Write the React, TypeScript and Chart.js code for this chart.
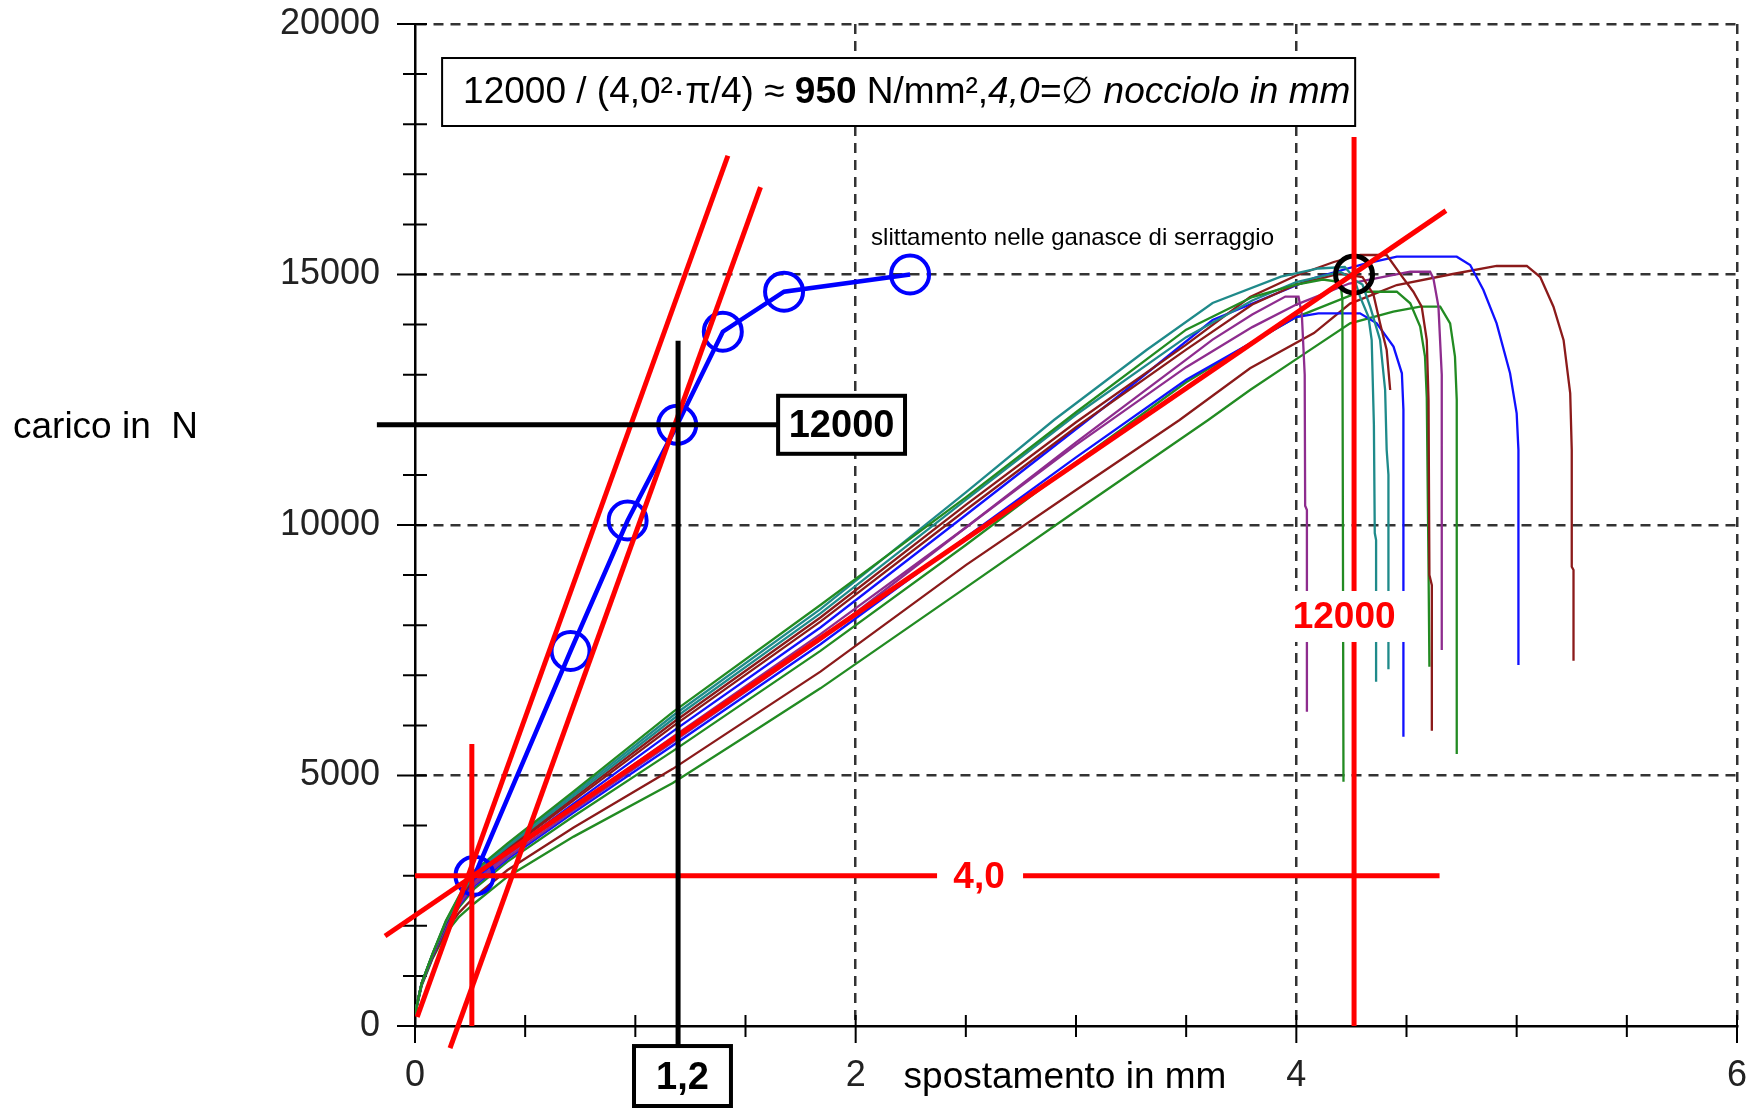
import React, { useEffect, useRef } from "react";
import { Chart, registerables } from "chart.js";

Chart.register(...registerables);

type P = [number, number];

// ---------- axes ----------
const xTickLabels = [0, 2, 4, 6];
const yTickLabels = [0, 5000, 10000, 15000, 20000];
const xTitle = "spostamento in mm";
const yTitle = "carico in  N";

// ---------- test curves (spostamento mm, carico N) ----------
const greenA: P[] = [[0,250],[0.03,850],[0.08,1450],[0.14,2100],[0.2,2600],[0.27,3100],[0.42,3646],[0.72,4683],[1.17,6264],[1.84,8403],[2.5,10550],[3.0,12250],[3.5,13900],[3.8,14550],[4.0,14800],[4.12,14900],[4.2,14850],[4.209,14500],[4.214,4877]];
const tealA: P[] = [[0,250],[0.03,850],[0.08,1445],[0.14,2088],[0.2,2579],[0.27,3068],[0.42,3613],[0.72,4638],[1.17,6193],[1.84,8320],[2.5,10650],[2.9,12096],[3.32,13493],[3.62,14431],[3.93,14956],[4.1,15120],[4.22,15150],[4.26,14950],[4.289,14558],[4.327,14159],[4.342,13693],[4.352,12000],[4.356,9840],[4.362,9700],[4.362,6873]];
const tealB: P[] = [[0,240],[0.03,850],[0.08,1440],[0.14,2075],[0.2,2558],[0.27,3035],[0.42,3579],[0.72,4593],[1.17,6123],[1.84,8237],[2.5,10500],[3.0,12200],[3.5,13750],[3.8,14480],[4.0,14850],[4.2,15050],[4.3,14800],[4.335,14358],[4.38,13693],[4.403,12695],[4.41,11500],[4.418,11000],[4.418,7120]];
const darkRedB: P[] = [[0,250],[0.03,850],[0.08,1435],[0.14,2063],[0.2,2537],[0.27,3003],[0.42,3546],[0.72,4548],[1.17,6052],[1.84,8154],[2.5,10400],[3.0,12050],[3.5,13600],[3.79,14550],[4.0,14980],[4.17,15250],[4.29,15389],[4.41,15389],[4.486,14922],[4.531,14656],[4.569,14358],[4.592,13693],[4.6,12500],[4.604,9000],[4.615,8800],[4.615,5895]];
const darkRedC: P[] = [[0,240],[0.03,850],[0.08,1430],[0.14,2050],[0.2,2516],[0.27,2970],[0.42,3513],[0.72,4502],[1.17,5981],[1.84,8070],[2.5,10300],[3.0,11950],[3.5,13500],[3.8,14400],[4.0,14800],[4.2,15020],[4.3,14950],[4.35,14600],[4.38,14025],[4.41,13493],[4.426,12695]];
const blueB: P[] = [[0,250],[0.03,850],[0.08,1423],[0.14,2033],[0.2,2487],[0.27,2925],[0.42,3466],[0.72,4439],[1.17,5882],[1.84,7954],[2.5,10200],[3.17,12495],[3.62,14092],[4.08,14930],[4.3,15200],[4.456,15356],[4.728,15356],[4.789,15190],[4.849,14690],[4.909,14025],[4.97,13028],[5.0,12230],[5.008,11500],[5.008,7206]];
const purpleB: P[] = [[0,240],[0.03,840],[0.08,1415],[0.14,2013],[0.2,2453],[0.27,2873],[0.42,3413],[0.72,4367],[1.17,5769],[1.84,7821],[2.5,9950],[3.0,11600],[3.5,13150],[3.8,13950],[4.0,14400],[4.24,14820],[4.517,15055],[4.607,15055],[4.622,14922],[4.645,14358],[4.66,13000],[4.66,7505]];
const purpleA: P[] = [[0,250],[0.03,840],[0.08,1408],[0.14,1995],[0.2,2424],[0.27,2827],[0.42,3366],[0.72,4304],[1.17,5670],[1.84,7705],[2.5,9950],[3.0,11650],[3.5,13300],[3.62,13700],[3.8,14200],[3.95,14560],[4.01,14560],[4.025,14200],[4.038,13000],[4.04,10385],[4.048,10300],[4.048,6274]];
const blueA: P[] = [[0,240],[0.03,840],[0.08,1403],[0.14,1983],[0.2,2403],[0.27,2795],[0.42,3333],[0.72,4259],[1.17,5599],[1.84,7621],[2.5,9750],[3.0,11350],[3.5,12900],[3.8,13650],[4.0,14150],[4.1,14225],[4.289,14225],[4.365,14025],[4.441,13560],[4.479,13028],[4.486,12300],[4.486,5775]];
const greenB: P[] = [[0,230],[0.03,830],[0.08,1395],[0.14,1963],[0.2,2369],[0.27,2743],[0.42,3280],[0.72,4186],[1.17,5486],[1.84,7488],[2.5,9600],[3.0,11250],[3.5,12850],[3.8,13650],[4.0,14150],[4.289,14656],[4.456,14656],[4.517,14425],[4.562,13960],[4.584,13360],[4.592,12535],[4.6,9140],[4.604,7172]];
const darkRedA: P[] = [[0,240],[0.03,820],[0.08,1370],[0.14,1900],[0.2,2264],[0.27,2580],[0.42,3113],[0.72,3961],[1.17,5133],[1.84,7073],[2.5,9200],[3.0,10700],[3.47,12096],[3.79,13128],[4.08,13830],[4.244,14420],[4.456,14790],[4.698,15000],[4.909,15170],[5.046,15170],[5.107,14950],[5.167,14358],[5.213,13690],[5.243,12630],[5.25,11500],[5.25,9168],[5.258,9100],[5.258,7292]];
const greenC: P[] = [[0,220],[0.03,800],[0.08,1350],[0.14,1850],[0.2,2180],[0.27,2450],[0.42,2980],[0.72,3780],[1.17,4850],[1.5,5780],[1.84,6740],[2.5,8750],[3.0,10280],[3.6,12096],[3.79,12695],[4.017,13360],[4.244,14025],[4.44,14258],[4.562,14358],[4.653,14358],[4.698,14025],[4.72,13360],[4.728,12500],[4.728,5429]];

// ---------- construction overlay ----------
const blueSeries: P[] = [[0.27,3000],[0.706,7485],[0.965,10090],[1.19,12000],[1.397,13858],[1.675,14657],[2.247,15000]];
const blackCircle: P[] = [[4.262,15000]];
const redSteepA: P[] = [[0.01,180],[1.42,17370]];
const redSteepB: P[] = [[0.159,-440],[1.568,16745]];
const redFit: P[] = [[-0.136,1796],[4.679,16274]];
const redVertLeft: P[] = [[0.258,0],[0.258,5630]];
const redVertRight: P[] = [[4.262,0],[4.262,17745]];
const redHoriz: P[] = [[0,3000],[4.65,3000]];
const blackVert: P[] = [[1.194,13680],[1.194,-400]];
const blackHoriz: P[] = [[-0.173,12000],[1.648,12000]];

// ---------- texts ----------
const formulaParts = ["12000 / (4,0²·π/4) ≈ ", "950", " N/mm²,", "4,0=∅ nocciolo in mm"];
const noteText = "slittamento nelle ganasce di serraggio";
const loadLabel = "12000";
const dispLabel = "1,2";
const redLoadLabel = "12000";
const diamLabel = "4,0";

const FONT = "'Liberation Sans', Arial, 'DejaVu Sans', sans-serif";

const C_GREEN = "#228b22";
const C_TEAL = "#1f8a8a";
const C_BLUE = "#1010ff";
const C_PURPLE = "#8e2c8e";
const C_DRED = "#8b1a1a";
const C_RED = "#ff0000";

const toXY = (pts: P[]) => pts.map(([x, y]) => ({ x, y }));

const lineDs = (pts: P[], color: string, width: number, extra: any = {}) => ({
  data: toXY(pts),
  borderColor: color,
  backgroundColor: color,
  borderWidth: width,
  pointRadius: 0,
  pointHoverRadius: 0,
  fill: false,
  tension: 0,
  ...extra,
});

const overlayPlugin = {
  id: "overlay",
  beforeDatasetsDraw(chart: any) {
    const { ctx, scales } = chart;
    const xs = scales.x;
    const ys = scales.y;
    const x0 = xs.getPixelForValue(0);
    const y0 = ys.getPixelForValue(0);
    ctx.save();
    ctx.strokeStyle = "#000";
    ctx.lineWidth = 2;
    ctx.beginPath();
    ys.ticks.forEach((t: any) => {
      const py = ys.getPixelForValue(t.value);
      const major = yTickLabels.includes(t.value);
      ctx.moveTo(x0 - (major ? 18 : 12), py);
      ctx.lineTo(x0 + 12, py);
    });
    xs.ticks.forEach((t: any) => {
      const px = xs.getPixelForValue(t.value);
      const major = xTickLabels.includes(t.value);
      ctx.moveTo(px, y0 - 11);
      ctx.lineTo(px, y0 + (major ? 17 : 11));
    });
    ctx.stroke();
    ctx.restore();
  },
  afterDatasetsDraw(chart: any) {
    const { ctx, scales } = chart;
    const xs = scales.x;
    const ys = scales.y;
    const X = (v: number) => xs.getPixelForValue(v);
    const Y = (v: number) => ys.getPixelForValue(v);
    ctx.save();

    // formula box
    const bx1 = X(0.123), bx2 = X(4.267), by1 = Y(19321), by2 = Y(17964);
    ctx.fillStyle = "#fff";
    ctx.fillRect(bx1, by1, bx2 - bx1, by2 - by1);
    ctx.strokeStyle = "#000";
    ctx.lineWidth = 2;
    ctx.strokeRect(bx1, by1, bx2 - bx1, by2 - by1);
    const fonts = [`37px ${FONT}`, `bold 37px ${FONT}`, `37px ${FONT}`, `italic 37px ${FONT}`];
    ctx.textBaseline = "middle";
    ctx.textAlign = "left";
    ctx.fillStyle = "#000";
    let tx = bx1 + 21;
    const ty = (by1 + by2) / 2 + 1;
    formulaParts.forEach((s, i) => {
      ctx.font = fonts[i];
      ctx.fillText(s, tx, ty);
      tx += ctx.measureText(s).width;
    });

    // note
    ctx.font = `24px ${FONT}`;
    ctx.fillText(noteText, X(2.07), Y(15729));

    // black 12000 box
    const lx1 = X(1.648), lx2 = X(2.224), lyc = Y(12000);
    ctx.fillStyle = "#fff";
    ctx.fillRect(lx1, lyc - 29, lx2 - lx1, 58);
    ctx.lineWidth = 4;
    ctx.strokeRect(lx1, lyc - 29, lx2 - lx1, 58);
    ctx.fillStyle = "#000";
    ctx.font = `bold 38px ${FONT}`;
    ctx.textAlign = "center";
    ctx.fillText(loadLabel, (lx1 + lx2) / 2, lyc + 2);

    // 1,2 box
    const dx1 = X(0.994), dx2 = X(1.434), dy1 = Y(-400);
    const dy2 = chart.height - 3;
    ctx.fillStyle = "#fff";
    ctx.fillRect(dx1, dy1, dx2 - dx1, dy2 - dy1);
    ctx.strokeRect(dx1, dy1, dx2 - dx1, dy2 - dy1);
    ctx.fillStyle = "#000";
    ctx.fillText(dispLabel, (dx1 + dx2) / 2, (dy1 + dy2) / 2 + 2);

    // red 12000 label
    ctx.font = `bold 37px ${FONT}`;
    const rx = X(4.217), ry = Y(8184);
    ctx.fillStyle = "#fff";
    ctx.fillRect(rx - 52, ry - 25, 116, 51);
    ctx.fillStyle = C_RED;
    ctx.fillText(redLoadLabel, rx, ry + 2);

    // red 4,0 label
    const qx = X(2.56), qy = Y(3000);
    ctx.fillStyle = "#fff";
    ctx.fillRect(qx - 42, qy - 20, 86, 40);
    ctx.fillStyle = C_RED;
    ctx.fillText(diamLabel, qx, qy + 2);

    // axis titles
    ctx.fillStyle = "#000";
    ctx.font = `37px ${FONT}`;
    ctx.textAlign = "left";
    ctx.fillText(yTitle, 13, Y(12000) + 3);
    ctx.textAlign = "center";
    ctx.fillText(xTitle, X(2.95), Y(0) + 52);

    ctx.restore();
  },
};

export default function App() {
  const ref = useRef<HTMLCanvasElement>(null);

  useEffect(() => {
    const canvas = ref.current;
    if (!canvas) return;
    Chart.defaults.font.family = FONT;

    const CW = 2.3;
    const datasets: any[] = [
      lineDs(blackVert, "#000", 5, { clip: false }),
      lineDs(blackHoriz, "#000", 5, { clip: false }),
      lineDs(redVertRight, C_RED, 5, { clip: false }),
      lineDs(redVertLeft, C_RED, 5, { clip: false }),
      lineDs(redHoriz, C_RED, 5, { clip: false }),
      lineDs(redFit, C_RED, 5, { clip: false }),
      lineDs(redSteepA, C_RED, 5, { clip: false }),
      lineDs(redSteepB, C_RED, 5, { clip: false }),
      {
        data: toXY(blackCircle),
        showLine: false,
        pointRadius: 18.5,
        pointHoverRadius: 18.5,
        pointBorderWidth: 5,
        pointBorderColor: "#000",
        pointBackgroundColor: "rgba(0,0,0,0)",
        clip: false,
      },
      lineDs(blueSeries, "#0000ff", 4.5, {
        pointRadius: 19,
        pointHoverRadius: 19,
        pointBorderWidth: 4,
        pointBorderColor: "#0000ff",
        pointBackgroundColor: "rgba(0,0,0,0)",
        clip: false,
      }),
      lineDs(greenA, C_GREEN, CW),
      lineDs(tealA, C_TEAL, CW),
      lineDs(tealB, C_TEAL, CW),
      lineDs(darkRedB, C_DRED, CW),
      lineDs(darkRedC, C_DRED, CW),
      lineDs(blueB, C_BLUE, CW),
      lineDs(purpleB, C_PURPLE, CW),
      lineDs(purpleA, C_PURPLE, CW),
      lineDs(blueA, C_BLUE, CW),
      lineDs(greenB, C_GREEN, CW),
      lineDs(darkRedA, C_DRED, CW),
      lineDs(greenC, C_GREEN, CW),
    ];

    const chart = new Chart(canvas, {
      type: "line",
      data: { datasets },
      options: {
        animation: false,
        responsive: false,
        events: [],
        layout: { autoPadding: false, padding: { left: 0, right: 14, top: 24, bottom: 0 } },
        plugins: { legend: { display: false }, tooltip: { enabled: false }, title: { display: false } },
        scales: {
          x: {
            type: "linear",
            min: 0,
            max: 6,
            afterFit: (s: any) => {
              s.height = 83;
              s.paddingLeft = 0;
              s.paddingRight = 0;
            },
            ticks: {
              stepSize: 0.5,
              autoSkip: false,
              maxRotation: 0,
              minRotation: 0,
              padding: 28,
              color: "#222",
              font: { size: 36, family: FONT },
              callback: (v: any) => (xTickLabels.includes(Number(v)) ? String(v) : ""),
            },
            grid: {
              drawTicks: false,
              lineWidth: 2.5,
              color: (c: any) =>
                c.tick && c.tick.value > 0 && xTickLabels.includes(c.tick.value) ? "#333" : "rgba(0,0,0,0)",
            },
            border: { display: true, color: "#000", width: 2.5, dash: [10, 7] },
          },
          y: {
            type: "linear",
            min: 0,
            max: 20000,
            afterFit: (s: any) => {
              s.width = 415;
              s.paddingTop = 0;
              s.paddingBottom = 0;
            },
            ticks: {
              stepSize: 1000,
              autoSkip: false,
              maxTicksLimit: 100,
              padding: 35,
              color: "#222",
              font: { size: 36, family: FONT },
              callback: (v: any) => (yTickLabels.includes(Number(v)) ? String(v) : ""),
            },
            grid: {
              drawTicks: false,
              lineWidth: 2.5,
              color: (c: any) =>
                c.tick && c.tick.value > 0 && yTickLabels.includes(c.tick.value) ? "#333" : "rgba(0,0,0,0)",
            },
            border: { display: true, color: "#000", width: 2.5, dash: [10, 7] },
          },
        },
      },
      plugins: [overlayPlugin],
    } as any);

    return () => chart.destroy();
  }, []);

  return (
    <div style={{ position: "absolute", left: 0, top: 0, width: 1751, height: 1109, background: "#fff" }}>
      <canvas ref={ref} width={1751} height={1109} style={{ display: "block" }} />
    </div>
  );
}
